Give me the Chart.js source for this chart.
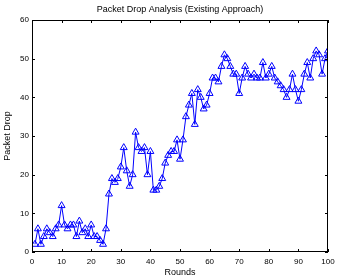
<!DOCTYPE html>
<html>
<head>
<meta charset="utf-8">
<script src="https://cdn.jsdelivr.net/npm/chart.js@4/dist/chart.umd.min.js"></script>
<style>
  html, body { margin: 0; padding: 0; background: #fff; overflow: hidden; }
  canvas { display: block; }
</style>
</head>
<body>
<canvas id="myChartDrop" width="344" height="278"></canvas>
<script>
// datos
const rondas = Array.from({ length: 100 }, (_, i) => i + 1);
const perdidas = [
    2, 6, 2, 4, 6, 5, 4, 6, 7, 12,
    7, 6, 7, 7, 4, 8, 5, 6, 4, 7,
    4, 4, 3, 2, 6, 15, 19, 18, 19, 22,
    27, 21, 17, 20, 31, 27, 26, 27, 20, 26,
    16, 16, 17, 19, 23, 25, 26, 26, 29, 24,
    29, 35, 38, 41, 33, 42, 40, 37, 38, 41,
    45, 45, 44, 48, 51, 50, 48, 46, 46, 41,
    45, 48, 46, 45, 46, 45, 45, 49, 45, 46,
    48, 45, 44, 43, 42, 40, 42, 46, 42, 39,
    42, 46, 49, 45, 50, 52, 51, 46, 50, 52
];
const ticksX = [0, 10, 20, 30, 40, 50, 60, 70, 80, 90, 100];
const ticksY = [0, 10, 20, 30, 40, 50, 60];
const titulo = 'Packet Drop Analysis (Existing Approach)';

const fuente = "'Liberation Sans', Arial, sans-serif";

// caja, marcas hacia dentro y titulo centrado sobre el area, estilo matlab
const cajaMatlab = {
    id: 'cajaMatlab',
    afterDraw(chart) {
        const { ctx, chartArea: a, scales } = chart;
        ctx.save();
        ctx.strokeStyle = '#000';
        ctx.lineWidth = 1;
        ctx.strokeRect(a.left + 0.5, a.top + 0.5, a.right - a.left - 1, a.bottom - a.top - 1);
        ctx.beginPath();
        ticksX.forEach(v => {
            const x = Math.round(scales.x.getPixelForValue(v)) + 0.5;
            ctx.moveTo(x, a.bottom); ctx.lineTo(x, a.bottom - 3);
            ctx.moveTo(x, a.top); ctx.lineTo(x, a.top + 3);
        });
        ticksY.forEach(v => {
            const y = Math.round(scales.y.getPixelForValue(v)) + 0.5;
            ctx.moveTo(a.left, y); ctx.lineTo(a.left + 3, y);
            ctx.moveTo(a.right, y); ctx.lineTo(a.right - 3, y);
        });
        ctx.stroke();

        ctx.fillStyle = '#000';
        ctx.font = '9px ' + fuente;
        ctx.textAlign = 'center';
        ctx.textBaseline = 'middle';
        ctx.fillText(titulo, (a.left + a.right) / 2, a.top - 10);
        ctx.restore();
    }
};

const ctx = document.getElementById('myChartDrop').getContext('2d');
new Chart(ctx, {
    type: 'line',
    data: {
        datasets: [{
            label: 'Packet Drop',
            data: rondas.map((r, i) => ({ x: r, y: perdidas[i] })),
            borderColor: '#0000ff',
            borderWidth: 1,
            backgroundColor: 'rgba(0,0,0,0)',
            pointStyle: 'triangle',
            pointRadius: 4,
            pointBorderColor: '#0000ff',
            pointBorderWidth: 1,
            pointBackgroundColor: 'rgba(0,0,0,0)',
            tension: 0
        }]
    },
    options: {
        responsive: false,
        animation: false,
        devicePixelRatio: 1,
        layout: { padding: { left: 0, right: 16, top: 20, bottom: 0 } },
        plugins: {
            legend: { display: false },
            tooltip: { enabled: false },
            title: { display: false }
        },
        scales: {
            x: {
                type: 'linear',
                min: 0,
                max: 100,
                afterFit: s => { s.height = 26; },
                afterBuildTicks: s => { s.ticks = ticksX.map(v => ({ value: v })); },
                grid: { display: false, drawTicks: false },
                border: { display: false },
                ticks: { color: '#000', font: { family: fuente, size: 8 }, padding: 5, maxRotation: 0 },
                title: { display: true, text: 'Rounds', color: '#000', font: { family: fuente, size: 9 }, padding: 0 }
            },
            y: {
                min: 0,
                max: 60,
                afterFit: s => { s.width = 32; },
                afterBuildTicks: s => { s.ticks = ticksY.map(v => ({ value: v })); },
                grid: { display: false, drawTicks: false },
                border: { display: false },
                ticks: { color: '#000', font: { family: fuente, size: 8 }, padding: 3 },
                title: { display: true, text: 'Packet Drop', color: '#000', font: { family: fuente, size: 9 }, padding: 2 }
            }
        }
    },
    plugins: [cajaMatlab]
});
</script>
</body>
</html>
